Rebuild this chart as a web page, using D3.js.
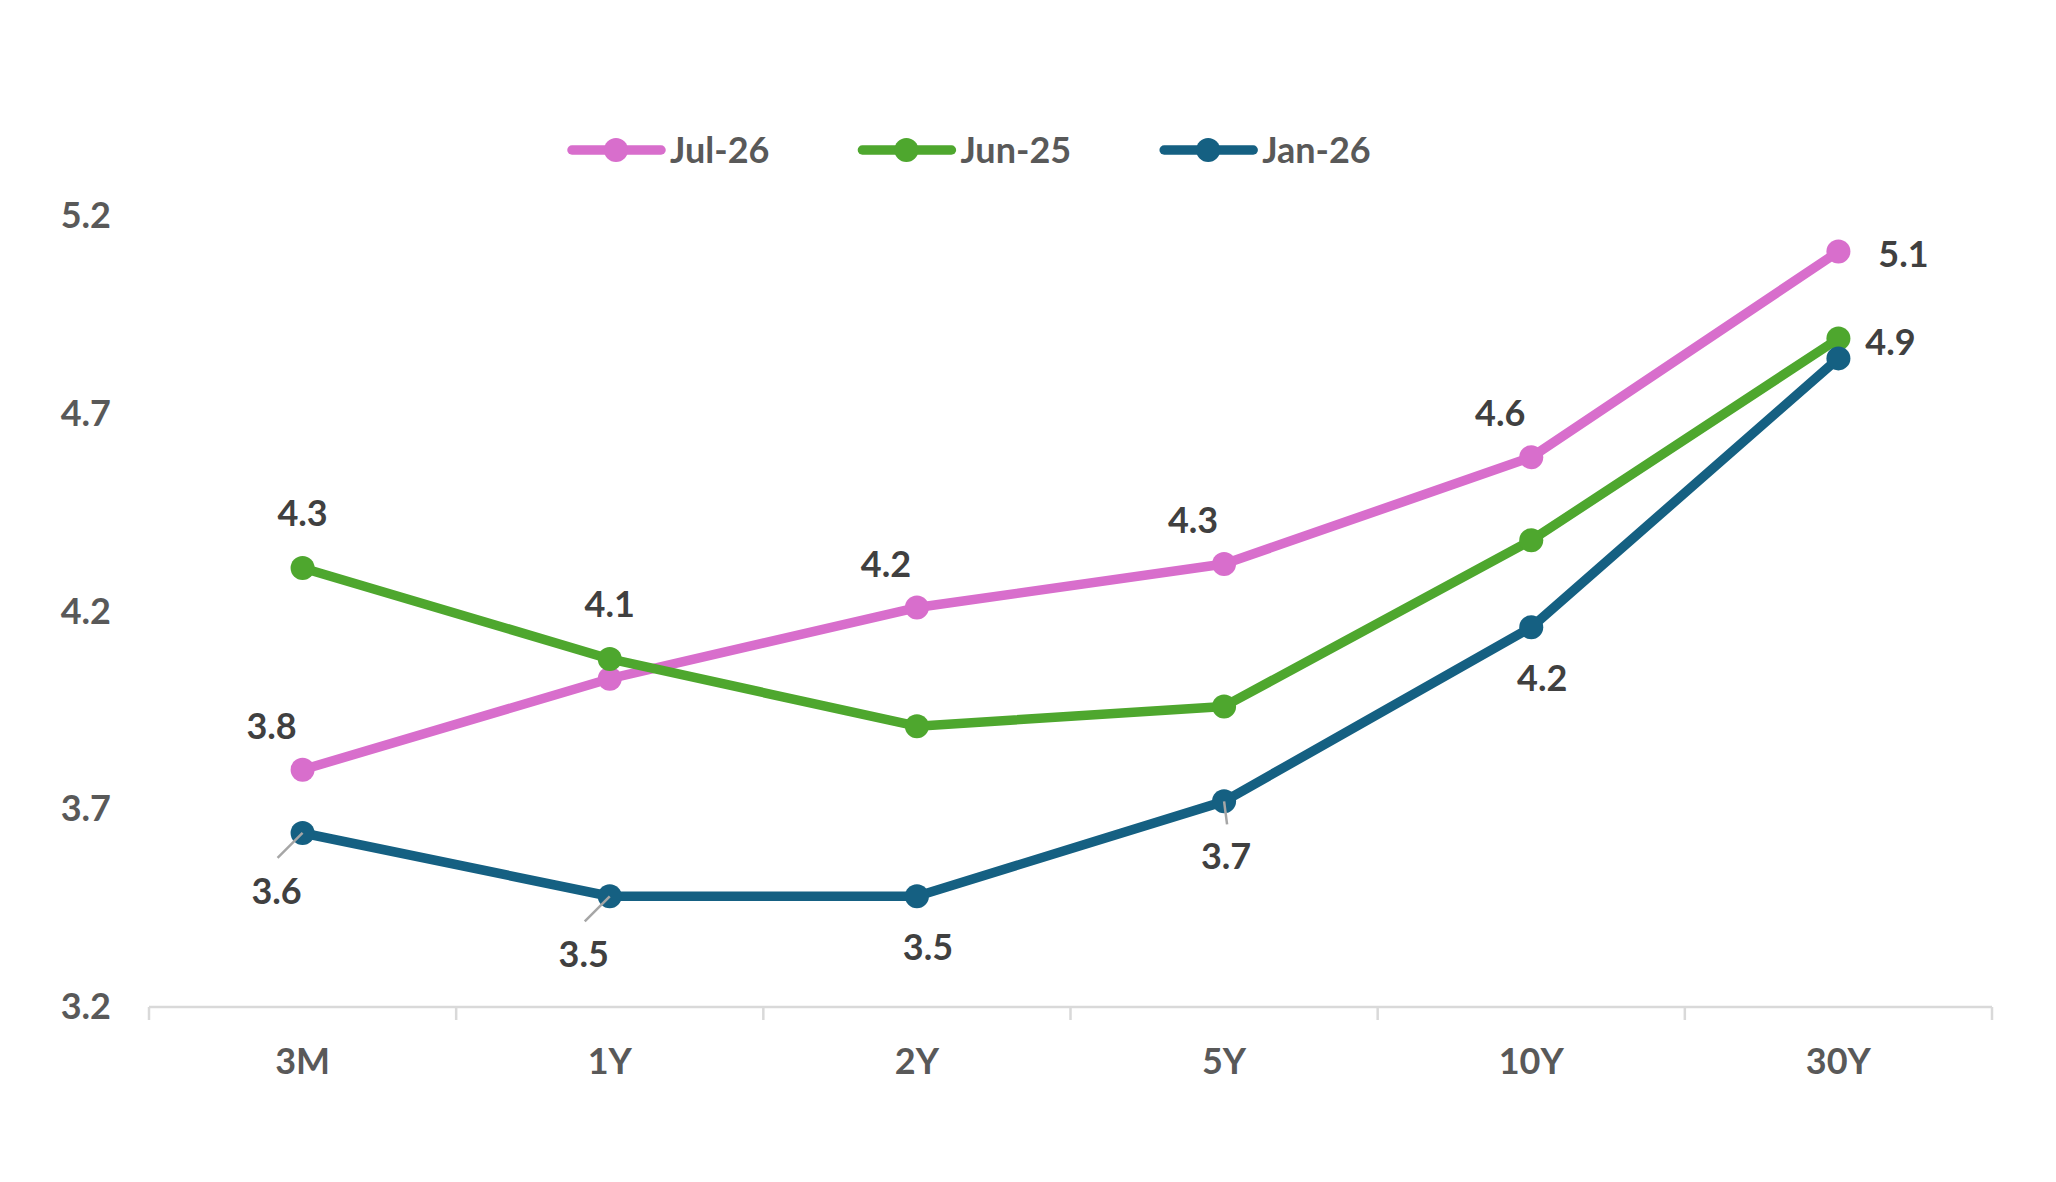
<!DOCTYPE html>
<html>
<head>
<meta charset="utf-8">
<script src="https://cdn.jsdelivr.net/npm/d3@7"></script>
<style>
  html, body { margin: 0; padding: 0; background: #fff; overflow: hidden; }
  #chart { width: 2056px; height: 1182px; }
  #chart svg { display: block; }
</style>
</head>
<body>
<div id="chart"></div>
<script>
// Data
const categories = ['3M', '1Y', '2Y', '5Y', '10Y', '30Y'];
const seriesNames = ['Jul-26', 'Jun-25', 'Jan-26'];
const jul26 = [3.80, 4.03, 4.21, 4.32, 4.59, 5.11];
const jun25 = [4.31, 4.08, 3.91, 3.96, 4.38, 4.89];
const jan26 = [3.64, 3.48, 3.48, 3.72, 4.16, 4.84];
const yTicks = [3.2, 3.7, 4.2, 4.7, 5.2];

// Which points carry a data label, and where (null = no label)
const jul26LabelPos = ['aboveLeft', null, 'aboveLeft', 'aboveLeft', 'aboveLeft', 'farRight'];
const jun25LabelPos = ['above', 'above', null, null, null, 'right'];
const jan26LabelPos = ['belowLeft', 'belowLeft', 'below', 'belowLeader', 'below', null];

const colors = ['#d86ecc', '#4ea72e', '#156082'];

const width = 2056;
const height = 1182;
const margin = { top: 216, right: 64, bottom: 175, left: 149 };
const innerWidth = width - margin.left - margin.right;
const innerHeight = height - margin.top - margin.bottom;
const fontFamily = 'Lato, Carlito, "Open Sans", sans-serif';
const fs = 36;

const series = [
  { name: seriesNames[0], values: jul26, pos: jul26LabelPos, color: colors[0] },
  { name: seriesNames[1], values: jun25, pos: jun25LabelPos, color: colors[1] },
  { name: seriesNames[2], values: jan26, pos: jan26LabelPos, color: colors[2] }
];

// label offsets: [dx, dy of text centre, leader end or null]
const labelOffsets = {
  above: [0, -55, null],
  aboveLeft: [-31, -44, null],
  right: [52, 3, null],
  farRight: [65, 2, null],
  below: [11, 51, null],
  belowLeft: [-26, 58, [-25, 25]],
  belowLeader: [2, 55, [3, 23]]
};

const svg = d3.select('#chart')
  .append('svg')
  .attr('width', width)
  .attr('height', height)
  .attr('viewBox', `0 0 ${width} ${height}`)
  .style('font-family', fontFamily);

svg.append('rect').attr('width', width).attr('height', height).attr('fill', '#fff');

const g = svg.append('g')
  .attr('transform', `translate(${margin.left},${margin.top})`);

// Scales
const x = d3.scaleBand()
  .domain(categories)
  .range([0, innerWidth]);

const y = d3.scaleLinear()
  .domain([3.2, 5.2])
  .range([innerHeight, 0]);

const cx = d => x(d) + x.bandwidth() / 2;

// X axis: line plus ticks between categories
const xAxis = g.append('g')
  .attr('class', 'x-axis')
  .attr('transform', `translate(0,${innerHeight})`);

xAxis.append('line')
  .attr('x1', 0)
  .attr('x2', innerWidth)
  .attr('stroke', '#d9d9d9')
  .attr('stroke-width', 2.5);

const tickXs = categories.map(c => x(c)).concat([innerWidth]);
xAxis.selectAll('.tick-mark')
  .data(tickXs)
  .enter()
  .append('line')
  .attr('class', 'tick-mark')
  .attr('x1', d => d)
  .attr('x2', d => d)
  .attr('y1', 0)
  .attr('y2', 13)
  .attr('stroke', '#d9d9d9')
  .attr('stroke-width', 2.5);

xAxis.selectAll('.x-label')
  .data(categories)
  .enter()
  .append('text')
  .attr('class', 'x-label')
  .attr('x', d => cx(d))
  .attr('y', 54 + fs * 0.36)
  .attr('text-anchor', 'middle')
  .style('font-size', fs + 'px')
  .style('font-weight', 700)
  .style('fill', '#595959')
  .text(d => d);

// Y axis labels only
const yAxis = d3.axisLeft(y)
  .tickValues(yTicks)
  .tickFormat(d3.format('.1f'))
  .tickSize(0)
  .tickPadding(38);

g.append('g')
  .attr('class', 'y-axis')
  .call(yAxis)
  .call(s => s.select('.domain').remove())
  .selectAll('text')
  .style('font-family', fontFamily)
  .style('font-size', fs + 'px')
  .style('font-weight', 700)
  .style('fill', '#595959');

// Lines and markers
const line = d3.line()
  .x((d, i) => cx(categories[i]))
  .y(d => y(d));

const seriesGroups = g.selectAll('.series')
  .data(series)
  .enter()
  .append('g')
  .attr('class', 'series');

seriesGroups.append('path')
  .attr('d', d => line(d.values))
  .attr('fill', 'none')
  .attr('stroke', d => d.color)
  .attr('stroke-width', 9.5)
  .attr('stroke-linejoin', 'round')
  .attr('stroke-linecap', 'round');

seriesGroups.each(function (s) {
  d3.select(this).selectAll('circle')
    .data(s.values)
    .enter()
    .append('circle')
    .attr('cx', (d, i) => cx(categories[i]))
    .attr('cy', d => y(d))
    .attr('r', 12)
    .attr('fill', s.color);
});

// Data labels with leader lines
const labelLayer = g.append('g').attr('class', 'labels');
series.forEach(s => {
  s.values.forEach((v, i) => {
    const pos = s.pos[i];
    if (!pos) return;
    const [dx, dy, leader] = labelOffsets[pos];
    const px = cx(categories[i]);
    const py = y(v);
    if (leader) {
      labelLayer.append('line')
        .attr('x1', px)
        .attr('y1', py)
        .attr('x2', px + leader[0])
        .attr('y2', py + leader[1])
        .attr('stroke', '#a6a6a6')
        .attr('stroke-width', 2.5);
    }
    labelLayer.append('text')
      .attr('x', px + dx)
      .attr('y', py + dy + fs * 0.36)
      .attr('text-anchor', 'middle')
      .style('font-size', fs + 'px')
      .style('font-weight', 700)
      .style('fill', '#404040')
      .text(d3.format('.1f')(v));
  });
});

// Legend
const legend = svg.append('g')
  .attr('class', 'legend')
  .attr('transform', 'translate(568,150)');

let lx = 0;
series.forEach(s => {
  const item = legend.append('g').attr('transform', `translate(${lx},0)`);
  item.append('line')
    .attr('x1', 4)
    .attr('x2', 93)
    .attr('stroke', s.color)
    .attr('stroke-width', 9.5)
    .attr('stroke-linecap', 'round');
  item.append('circle')
    .attr('cx', 48)
    .attr('r', 12)
    .attr('fill', s.color);
  const t = item.append('text')
    .attr('x', 102)
    .attr('y', fs * 0.36)
    .style('font-size', fs + 'px')
    .style('font-weight', 700)
    .style('fill', '#595959')
    .text(s.name);
  lx += 102 + t.node().getComputedTextLength() + 89;
});
</script>
</body>
</html>
